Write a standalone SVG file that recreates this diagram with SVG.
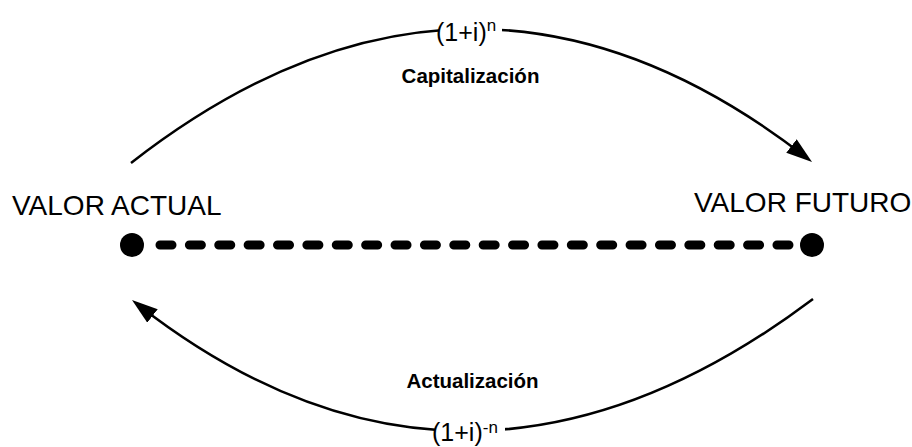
<svg xmlns="http://www.w3.org/2000/svg" width="912" height="447" viewBox="0 0 912 447">
<style>
.lbl{font-family:"Liberation Sans",Arial,sans-serif;fill:#000}
.big{font-size:28px}
.bold{font-size:20.5px;font-weight:bold}
.fac{font-size:25px}
.sup{font-size:17px}
.arc{fill:none;stroke:#000;stroke-width:2.5}
.dash{fill:none;stroke:#000;stroke-width:9;stroke-linecap:round;stroke-dasharray:12 17.38}
</style>
<defs>
<marker id="arr" markerUnits="userSpaceOnUse" markerWidth="26" markerHeight="17" viewBox="0 0 26 17" refX="18" refY="8.5" orient="auto">
<path d="M0,0 L26,8.5 L0,17 z" fill="#000"/>
</marker>
</defs>
<rect width="912" height="447" fill="#fff"/>
<g id="connectors">
<path class="arc" d="M131,163 Q471,-102 805.7,157" marker-end="url(#arr)"/>
<path class="arc" d="M813,299 Q466,560 138.3,304.9" marker-end="url(#arr)"/>
<line class="dash" x1="160" y1="245" x2="790" y2="245"/>
</g>
<g id="valor-actual">
<circle cx="132" cy="245" r="12" fill="#000"/>
<text class="lbl big" x="12" y="215">VALOR ACTUAL</text>
</g>
<g id="valor-futuro">
<circle cx="812" cy="245" r="12" fill="#000"/>
<text class="lbl big" x="694" y="212">VALOR FUTURO</text>
</g>
<g id="label-capitalizacion">
<rect x="439" y="18" width="63" height="24" fill="#fff"/>
<text class="lbl fac" x="436" y="41">(1+i)<tspan class="sup" y="31">n</tspan></text>
<text class="lbl bold" x="470.5" y="83" text-anchor="middle">Capitalización</text>
</g>
<g id="label-actualizacion">
<rect x="435" y="421" width="70" height="22" fill="#fff"/>
<text class="lbl fac" x="432" y="441">(1+i)<tspan class="sup" y="433">-n</tspan></text>
<text class="lbl bold" x="472.5" y="388" text-anchor="middle">Actualización</text>
</g>
</svg>
